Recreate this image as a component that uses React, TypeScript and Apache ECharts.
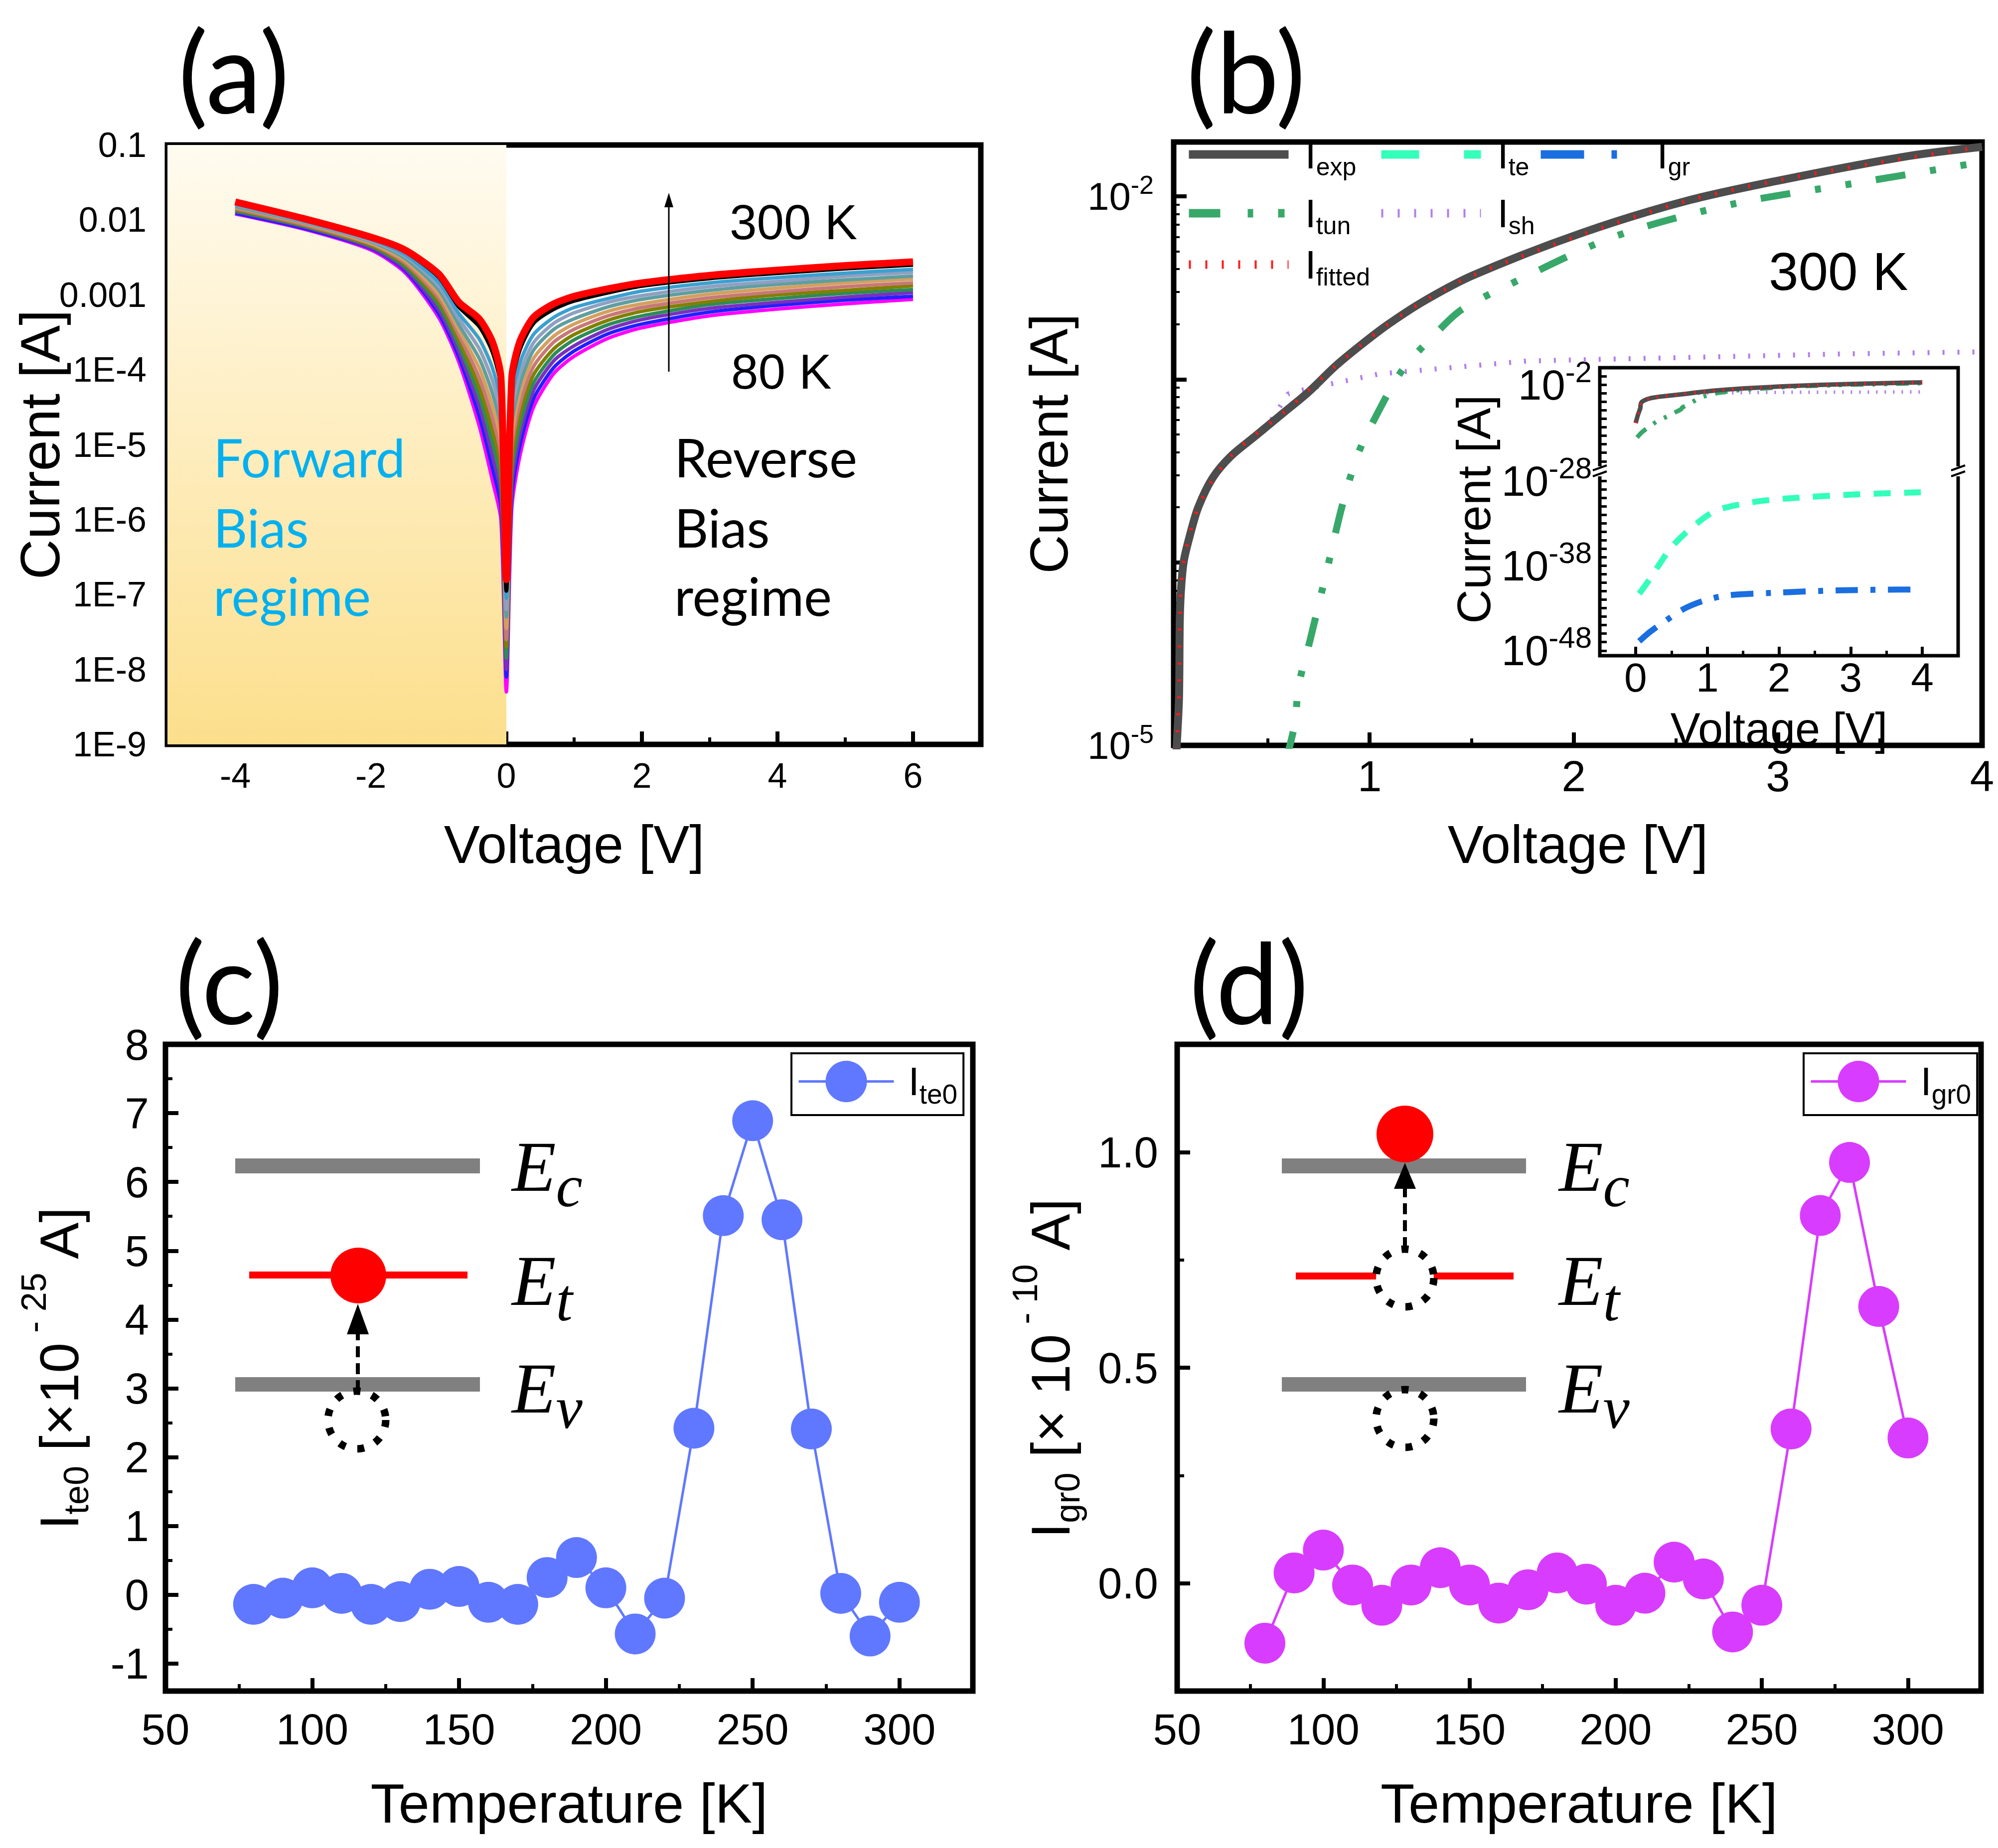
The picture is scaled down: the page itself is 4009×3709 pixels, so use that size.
import React, { useEffect, useRef } from 'react';
import * as echarts from 'echarts';

const W = 4009;
const H = 3709;
const SANS = "'Liberation Sans', Arial, Helvetica, sans-serif";
const CAL = "Lato, 'Open Sans', sans-serif";
const SERIF = "'Liberation Serif', 'DejaVu Serif', serif";

// ================= Panel (a): I-V curves 80 K ... 300 K (log10 of current in A) =================
const aVoltage = [-4, -3, -2, -1.5, -1, -0.7, -0.4, -0.2, -0.08, 0, 0.08, 0.2, 0.4, 0.7, 1, 1.5, 2, 3, 4, 5, 6];
const aTemps = [80, 100, 120, 140, 160, 180, 200, 220, 240, 260, 280, 300];
const aLogI80 = [-1.92, -2.12, -2.40, -2.70, -3.30, -3.90, -4.75, -5.50, -6.00, -8.30, -5.85, -5.15, -4.50, -4.05, -3.82, -3.58, -3.44, -3.28, -3.19, -3.12, -3.06];
const aLogI100 = [-1.91, -2.11, -2.38, -2.67, -3.25, -3.83, -4.62, -5.33, -5.83, -8.10, -5.69, -5.01, -4.39, -3.97, -3.75, -3.52, -3.39, -3.23, -3.14, -3.07, -3.02];
const aLogI120 = [-1.89, -2.09, -2.37, -2.65, -3.20, -3.76, -4.49, -5.17, -5.66, -8.00, -5.54, -4.87, -4.28, -3.88, -3.68, -3.46, -3.33, -3.18, -3.10, -3.03, -2.97];
const aLogI140 = [-1.88, -2.08, -2.35, -2.62, -3.14, -3.68, -4.36, -5.00, -5.49, -7.85, -5.38, -4.74, -4.18, -3.80, -3.60, -3.40, -3.28, -3.13, -3.05, -2.98, -2.93];
const aLogI160 = [-1.86, -2.07, -2.34, -2.59, -3.09, -3.61, -4.24, -4.83, -5.32, -7.70, -5.22, -4.60, -4.07, -3.72, -3.53, -3.34, -3.22, -3.09, -3.00, -2.94, -2.88];
const aLogI180 = [-1.85, -2.06, -2.32, -2.57, -3.04, -3.54, -4.11, -4.66, -5.15, -7.60, -5.06, -4.46, -3.96, -3.63, -3.46, -3.28, -3.17, -3.04, -2.96, -2.89, -2.84];
const aLogI200 = [-1.83, -2.04, -2.31, -2.54, -2.99, -3.47, -3.98, -4.50, -4.97, -7.45, -4.91, -4.32, -3.85, -3.55, -3.39, -3.22, -3.12, -2.99, -2.91, -2.84, -2.79];
const aLogI220 = [-1.82, -2.03, -2.29, -2.51, -2.93, -3.40, -3.85, -4.33, -4.80, -7.30, -4.75, -4.19, -3.74, -3.46, -3.32, -3.16, -3.06, -2.94, -2.86, -2.80, -2.75];
const aLogI240 = [-1.80, -2.02, -2.28, -2.48, -2.88, -3.32, -3.72, -4.16, -4.63, -7.20, -4.59, -4.05, -3.64, -3.38, -3.24, -3.10, -3.01, -2.89, -2.82, -2.75, -2.70];
const aLogI260 = [-1.79, -2.01, -2.26, -2.46, -2.83, -3.25, -3.59, -3.99, -4.46, -7.05, -4.43, -3.91, -3.53, -3.30, -3.17, -3.05, -2.95, -2.84, -2.77, -2.71, -2.66];
const aLogI280 = [-1.77, -1.99, -2.24, -2.42, -2.76, -3.16, -3.42, -3.77, -4.23, -6.95, -4.22, -3.73, -3.38, -3.19, -3.08, -2.97, -2.88, -2.78, -2.71, -2.65, -2.60];
const aLogI300 = [-1.76, -1.98, -2.23, -2.40, -2.72, -3.10, -3.32, -3.64, -4.10, -6.80, -4.10, -3.62, -3.30, -3.12, -3.02, -2.92, -2.84, -2.74, -2.67, -2.61, -2.56];
const aLogCurves = [aLogI80, aLogI100, aLogI120, aLogI140, aLogI160, aLogI180, aLogI200, aLogI220, aLogI240, aLogI260, aLogI280, aLogI300];
const aXTicks = [-4, -2, 0, 2, 4, 6];
const aYTickExp = [-9, -8, -7, -6, -5, -4, -3, -2, -1];
const aYTickText = ['1E-9', '1E-8', '1E-7', '1E-6', '1E-5', '1E-4', '0.001', '0.01', '0.1'];

// ================= Panel (b): 300 K components (log10 of current in A) =================
const bExpV = [0, 0.03, 0.055, 0.066, 0.07, 0.077, 0.09, 0.12, 0.16, 0.23, 0.32, 0.44, 0.57, 0.70, 0.83, 0.96, 1.09, 1.27, 1.51, 2.04, 2.57, 3.11, 3.64, 4.0];
const bExpLog = [-6.5, -5.6, -5.0, -4.74, -4.31, -4.13, -3.99, -3.85, -3.70, -3.54, -3.42, -3.31, -3.19, -3.07, -2.93, -2.81, -2.70, -2.57, -2.43, -2.20, -2.02, -1.89, -1.78, -1.73];
const bFitLog = [-6.5, -5.6, -5.0, -4.72, -4.32, -4.12, -3.99, -3.84, -3.70, -3.55, -3.42, -3.30, -3.19, -3.06, -2.93, -2.81, -2.70, -2.57, -2.43, -2.21, -2.02, -1.89, -1.79, -1.73];
const bTunV = [0.02, 0.1, 0.3, 0.45, 0.55, 0.63, 0.653, 0.707, 0.787, 0.868, 0.946, 1.027, 1.16, 1.35, 1.45, 1.67, 2.2, 2.79, 3.37, 3.96, 4.0];
const bTunLog = [-8.2, -7.5, -6.3, -5.7, -5.25, -4.90, -4.67, -4.43, -4.06, -3.68, -3.40, -3.21, -2.95, -2.72, -2.62, -2.49, -2.22, -2.04, -1.93, -1.82, -1.81];
const bShV = [0.52, 0.6, 0.7, 0.787, 1.05, 1.77, 2.57, 3.37, 4.0];
const bShLog = [-3.22, -3.08, -3.05, -3.03, -2.97, -2.90, -2.88, -2.86, -2.85];
const bTeV = [0.05, 0.17, 0.35, 0.49, 0.73, 1.10, 1.57, 2.08, 3.07, 3.98];
const bTeLog = [-41.3, -39.9, -37.6, -35.9, -33.9, -31.6, -30.6, -30.1, -29.6, -29.35];
const bGrV = [0.05, 0.2, 0.4, 0.67, 0.96, 1.28, 1.9, 2.86, 3.88];
const bGrLog = [-46.9, -45.8, -44.6, -43.1, -42.1, -41.5, -41.2, -40.9, -40.8];
const bXTicks = [1, 2, 3, 4];
const bYTickExp = [-5, -2];
const bInsetXTicks = [0, 1, 2, 3, 4];
const bInsetUpperTickExp = [-2];
const bInsetLowerTickExp = [-48, -38, -28];

// ================= Panels (c), (d) =================
const cdTemp = [80, 90, 100, 110, 120, 130, 140, 150, 160, 170, 180, 190, 200, 210, 220, 230, 240, 250, 260, 270, 280, 290, 300];
const cIte0 = [-0.14, -0.05, 0.10, 0.02, -0.14, -0.10, 0.08, 0.12, -0.11, -0.14, 0.25, 0.54, 0.10, -0.57, -0.05, 2.42, 5.51, 6.89, 5.45, 2.41, 0.02, -0.60, -0.11];
const dIgr0 = [-0.139, 0.024, 0.077, -0.004, -0.051, -0.004, 0.036, -0.004, -0.046, -0.015, 0.024, -0.002, -0.051, -0.023, 0.049, 0.010, -0.113, -0.051, 0.358, 0.853, 0.976, 0.642, 0.337];
const cdXTicks = [50, 100, 150, 200, 250, 300];
const cYTicks = [-1, 0, 1, 2, 3, 4, 5, 6, 7, 8];
const dYTicks = [0, 0.5, 1.0];
const dYTickText = ['0.0', '0.5', '1.0'];

// ================= styles =================
const aColors = ['#ff00ff', '#2020ff', '#7b2fbe', '#2e8b57', '#808000', '#c87878', '#d4a060', '#5f9ea0', '#8fa0c0', '#3ba0d0', '#000000', '#ff0000'];
const aWidths = [7, 7, 7, 7, 7, 7, 7, 7, 7, 7, 8, 14];

const pow10 = (l: number) => Math.pow(10, l);

function pick(v: number, ticks: number[], texts?: string[]) {
  const i = ticks.findIndex((t) => Math.abs(t - v) < 1e-6);
  if (i < 0) return '';
  return texts ? texts[i] : String(ticks[i]);
}
function pickLogExp(v: number, exps: number[]) {
  if (!(v > 0)) return null;
  const l = Math.log10(v);
  const e = Math.round(l);
  if (Math.abs(l - e) > 1e-6) return null;
  return exps.indexOf(e) >= 0 ? e : null;
}

const tickIn = (len: number, w: number) => ({ show: true, inside: true, length: len, lineStyle: { color: '#000', width: w } });
const minorIn = (split: number, len: number, w: number) => ({ show: true, splitNumber: split, length: len, lineStyle: { color: '#000', width: w } });
const lab = (size: number, margin: number, formatter: any, rich?: any) => ({
  color: '#000', fontFamily: SANS, fontSize: size, margin, formatter, rich, showMinLabel: true, showMaxLabel: true, hideOverlap: false,
});
const nameStyle = (size: number, rich?: any) => ({ fontSize: size, color: '#000', fontFamily: SANS, rich });
const baseAxis = { axisLine: { show: false, onZero: false }, splitLine: { show: false }, nameMoveOverlap: false };

function buildOption() {
  const gridBox = { show: true, borderColor: '#000', borderWidth: 11, backgroundColor: 'transparent', outerBoundsMode: 'none', containLabel: false };
  const grid = [
    { left: 336, top: 291, width: 1632, height: 1203, ...gridBox },
    { left: 2355, top: 285, width: 1622, height: 1211, ...gridBox },
    { left: 3210, top: 738, width: 719, height: 210, show: false, outerBoundsMode: 'none', containLabel: false },
    { left: 3210, top: 948, width: 719, height: 368, show: false, outerBoundsMode: 'none', containLabel: false },
    { left: 332, top: 2096, width: 1620, height: 1298, ...gridBox },
    { left: 2362, top: 2096, width: 1613, height: 1298, ...gridBox },
  ];

  const supRich = (b: number, s: number, pad: number) => ({
    b: { fontSize: b, color: '#000', fontFamily: SANS },
    s: { fontSize: s, color: '#000', fontFamily: SANS, padding: [0, 0, pad, 0] },
  });

  const xAxis: any[] = [
    {
      ...baseAxis, type: 'value', gridIndex: 0, min: -5, max: 7, splitNumber: 6,
      axisTick: tickIn(26, 8), minorTick: minorIn(2, 14, 6),
      axisLabel: lab(70, 28, (v: number) => pick(v, aXTicks)),
      name: 'Voltage [V]', nameLocation: 'middle', nameGap: 146, nameTextStyle: nameStyle(108),
    },
    {
      ...baseAxis, type: 'value', gridIndex: 1, min: 0.04, max: 4, splitNumber: 4,
      axisTick: tickIn(26, 8), minorTick: minorIn(2, 14, 6),
      axisLabel: lab(87, 18, (v: number) => pick(v, bXTicks)),
      name: 'Voltage [V]', nameLocation: 'middle', nameGap: 144, nameTextStyle: nameStyle(108),
    },
    { ...baseAxis, type: 'value', gridIndex: 2, min: -0.5, max: 4.5, splitNumber: 5, show: false },
    {
      ...baseAxis, type: 'value', gridIndex: 3, min: -0.5, max: 4.5, splitNumber: 5,
      axisTick: tickIn(18, 6), minorTick: minorIn(2, 10, 5),
      axisLabel: lab(82, 2, (v: number) => pick(v, bInsetXTicks)),
      name: 'Voltage [V]', nameLocation: 'middle', nameGap: 102, nameTextStyle: nameStyle(90),
    },
    {
      ...baseAxis, type: 'value', gridIndex: 4, min: 50, max: 325, interval: 50,
      axisTick: tickIn(26, 8), minorTick: minorIn(2, 14, 6),
      axisLabel: lab(87, 33, (v: number) => pick(v, cdXTicks)),
      name: 'Temperature [K]', nameLocation: 'middle', nameGap: 169, nameTextStyle: nameStyle(112),
    },
    {
      ...baseAxis, type: 'value', gridIndex: 5, min: 50, max: 325, interval: 50,
      axisTick: tickIn(26, 8), minorTick: minorIn(2, 14, 6),
      axisLabel: lab(87, 33, (v: number) => pick(v, cdXTicks)),
      name: 'Temperature [K]', nameLocation: 'middle', nameGap: 169, nameTextStyle: nameStyle(112),
    },
  ];

  const subTitleRich = {
    i: { fontSize: 110, color: '#000', fontFamily: SANS },
    s: { fontSize: 70, color: '#000', fontFamily: SANS, padding: [70, 0, 0, 0] },
    n: { fontSize: 110, color: '#000', fontFamily: SANS },
    p: { fontSize: 70, color: '#000', fontFamily: SANS, padding: [0, 0, 100, 0] },
  };

  const yAxis: any[] = [
    {
      ...baseAxis, type: 'log', logBase: 10, gridIndex: 0, min: 1e-9, max: 0.1, splitNumber: 8,
      axisTick: tickIn(26, 8), minorTick: minorIn(9, 12, 4),
      axisLabel: lab(70, 42, (v: number) => {
        const e = pickLogExp(v, aYTickExp);
        return e === null ? '' : aYTickText[aYTickExp.indexOf(e)];
      }),
      name: 'Current [A]', nameLocation: 'middle', nameGap: 200, nameTextStyle: nameStyle(112),
    },
    {
      ...baseAxis, type: 'log', logBase: 10, gridIndex: 1, min: 1e-5, max: 0.0198, splitNumber: 3,
      axisTick: tickIn(26, 8), minorTick: minorIn(9, 12, 4),
      axisLabel: lab(78, 40, (v: number) => {
        const e = pickLogExp(v, bYTickExp);
        return e === null ? '' : `{b|10}{s|${e}}`;
      }, supRich(78, 52, 46)),
      name: 'Current [A]', nameLocation: 'middle', nameGap: 197, nameTextStyle: nameStyle(108),
    },
    {
      ...baseAxis, type: 'value', gridIndex: 2, min: -12.3, max: 0, splitNumber: 12,
      axisTick: tickIn(14, 5),
      axisLabel: lab(85, 16, (v: number) => {
        const t = pick(v, bInsetUpperTickExp);
        return t === '' ? '' : `{b|10}{s|${t}}`;
      }, supRich(85, 60, 52)),
    },
    {
      ...baseAxis, type: 'value', gridIndex: 3, min: -48.6, max: -27, splitNumber: 22,
      axisTick: tickIn(14, 5),
      axisLabel: lab(85, 16, (v: number) => {
        const t = pick(v, bInsetLowerTickExp);
        return t === '' ? '' : `{b|10}{s|${t}}`;
      }, supRich(85, 60, 52)),
    },
    {
      ...baseAxis, type: 'value', gridIndex: 4, min: -1.4, max: 8, splitNumber: 9,
      axisTick: tickIn(26, 8), minorTick: minorIn(2, 14, 6),
      axisLabel: lab(87, 33, (v: number) => pick(v, cYTicks)),
      name: '{i|I}{s|te0}{n| [×10}{p| - 25}{n| A]}', nameLocation: 'middle', nameGap: 129,
      nameTextStyle: nameStyle(110, subTitleRich),
    },
    {
      ...baseAxis, type: 'value', gridIndex: 5, min: -0.25, max: 1.25, splitNumber: 3,
      axisTick: tickIn(26, 8), minorTick: minorIn(2, 14, 6),
      axisLabel: lab(87, 38, (v: number) => pick(v, dYTicks, dYTickText)),
      name: '{i|I}{s|gr0}{n| [× 10}{p| - 10}{n| A]}', nameLocation: 'middle', nameGap: 170,
      nameTextStyle: nameStyle(110, subTitleRich),
    },
  ];

  const series: any[] = [];

  // (a) forward-bias shading
  series.push({
    type: 'line', xAxisIndex: 0, yAxisIndex: 0, data: [], silent: true, symbol: 'none',
    markArea: {
      silent: true,
      itemStyle: {
        color: new echarts.graphic.LinearGradient(0, 0, 0, 1, [
          { offset: 0, color: '#fffbf0' },
          { offset: 1, color: '#fcdf8c' },
        ]),
      },
      data: [[{ coord: [-5, 0.1] }, { coord: [0, 1e-9] }]],
    },
  });
  aLogCurves.forEach((logs, k) => {
    series.push({
      name: `${aTemps[k]} K`, type: 'line', xAxisIndex: 0, yAxisIndex: 0, z: 3,
      data: aVoltage.map((v, i) => [v, pow10(logs[i])]),
      symbol: 'none', smooth: 0.25,
      lineStyle: { color: aColors[k], width: aWidths[k] },
    });
  });

  // (b) main
  const cTun = '#38a86a', cExp = '#4d4d4d', cSh = '#b27ee8', cFit = '#ff1a1a', cTe = '#33ffbb', cGr = '#1a6ee0';
  series.push({ name: 'sh', type: 'line', xAxisIndex: 1, yAxisIndex: 1, symbol: 'none', data: bShV.map((v, i) => [v, pow10(bShLog[i])]), lineStyle: { color: cSh, width: 10, type: [4, 26] } });
  series.push({ name: 'tun', type: 'line', xAxisIndex: 1, yAxisIndex: 1, symbol: 'none', smooth: 0.3, data: bTunV.map((v, i) => [v, pow10(bTunLog[i])]), lineStyle: { color: cTun, width: 14, type: [60, 50, 12, 50, 12, 50] } });
  series.push({ name: 'exp', type: 'line', xAxisIndex: 1, yAxisIndex: 1, symbol: 'none', smooth: 0.3, data: bExpV.map((v, i) => [v, pow10(bExpLog[i])]), lineStyle: { color: cExp, width: 16 } });
  series.push({ name: 'fitted', type: 'line', xAxisIndex: 1, yAxisIndex: 1, symbol: 'none', smooth: 0.3, data: bExpV.map((v, i) => [v, pow10(bFitLog[i])]), lineStyle: { color: cFit, width: 8, type: [4, 30] } });
  // (b) inset upper (exponent scale)
  series.push({ name: 'sh', type: 'line', xAxisIndex: 2, yAxisIndex: 2, symbol: 'none', data: bShV.map((v, i) => [v, bShLog[i]]), lineStyle: { color: cSh, width: 7, type: [3, 14] } });
  series.push({ name: 'tun', type: 'line', xAxisIndex: 2, yAxisIndex: 2, symbol: 'none', smooth: 0.3, data: bTunV.map((v, i) => [v, bTunLog[i]]), lineStyle: { color: cTun, width: 9, type: [25, 18, 6, 18, 6, 18] } });
  series.push({ name: 'exp', type: 'line', xAxisIndex: 2, yAxisIndex: 2, symbol: 'none', data: bExpV.map((v, i) => [v, bExpLog[i]]), lineStyle: { color: cExp, width: 9 } });
  series.push({ name: 'fitted', type: 'line', xAxisIndex: 2, yAxisIndex: 2, symbol: 'none', data: bExpV.map((v, i) => [v, bFitLog[i]]), lineStyle: { color: cFit, width: 6, type: [3, 16] } });
  // (b) inset lower
  series.push({ name: 'te', type: 'line', xAxisIndex: 3, yAxisIndex: 3, symbol: 'none', smooth: 0.3, data: bTeV.map((v, i) => [v, bTeLog[i]]), lineStyle: { color: cTe, width: 12, type: [34, 27] } });
  series.push({ name: 'gr', type: 'line', xAxisIndex: 3, yAxisIndex: 3, symbol: 'none', smooth: 0.3, data: bGrV.map((v, i) => [v, bGrLog[i]]), lineStyle: { color: cGr, width: 12, type: [45, 25, 10, 25] } });

  // (c), (d)
  series.push({
    name: 'te0', type: 'line', xAxisIndex: 4, yAxisIndex: 4, z: 3,
    data: cdTemp.map((t, i) => [t, cIte0[i]]), symbol: 'circle', symbolSize: 82,
    itemStyle: { color: '#6078ff' }, lineStyle: { color: '#6078ff', width: 5 },
  });
  series.push({
    name: 'gr0', type: 'line', xAxisIndex: 5, yAxisIndex: 5, z: 3,
    data: cdTemp.map((t, i) => [t, dIgr0[i]]), symbol: 'circle', symbolSize: 82,
    itemStyle: { color: '#d83cff' }, lineStyle: { color: '#d83cff', width: 5 },
  });

  const legendText = (padLeft: number, sub: number, subPad: number) => ({
    fontSize: 80, color: '#000', fontFamily: SANS,
    rich: {
      i: { fontSize: 80, color: '#000', fontFamily: SANS, padding: [0, 0, 0, padLeft] },
      s: { fontSize: sub, color: '#000', fontFamily: SANS, padding: [subPad, 0, 0, 0] },
    },
  });
  const bLeg = [
    { name: 'exp', left: 2377, cy: 322, type: 'solid' as any },
    { name: 'te', left: 2763, cy: 322, type: [76, 90] },
    { name: 'gr', left: 3083, cy: 322, type: [87, 55, 11, 60] },
    { name: 'tun', left: 2377, cy: 440, type: [63, 55, 11, 50, 13, 20] },
    { name: 'sh', left: 2763, cy: 440, type: [4, 29] },
    { name: 'fitted', left: 2377, cy: 543, type: [4, 29] },
  ];
  const legend: any[] = bLeg.map((l) => ({
    data: [l.name], left: l.left, top: l.cy - 52, orient: 'horizontal', padding: 0, itemGap: 0,
    itemWidth: 200, itemHeight: 20, selectedMode: false,
    itemStyle: { opacity: 0 }, lineStyle: { width: 17, type: l.type, cap: 'butt' },
    formatter: (n: string) => `{i|I}{s|${n}}`, textStyle: legendText(28, 50, 50),
  }));
  legend.push({
    data: ['te0'], left: 1588, top: 2114, padding: [15, 12, 15, 12], borderColor: '#000', borderWidth: 4,
    itemWidth: 191, itemHeight: 104, selectedMode: false, lineStyle: { width: 5 },
    formatter: () => '{i|I}{s|te0}', textStyle: legendText(24, 55, 50),
  });
  legend.push({
    data: ['gr0'], left: 3619, top: 2114, padding: [15, 12, 15, 12], borderColor: '#000', borderWidth: 4,
    itemWidth: 191, itemHeight: 104, selectedMode: false, lineStyle: { width: 5 },
    formatter: () => '{i|I}{s|gr0}', textStyle: legendText(24, 55, 50),
  });

  // ---------------- graphics ----------------
  const txt = (x: number, y: number, text: string, size: number, o: any = {}) => ({
    type: 'text', x, y, z: 100, silent: true, rotation: o.rotation || 0,
    style: {
      text, fontSize: size, fontFamily: o.family || SANS, fontStyle: o.fontStyle || 'normal',
      fill: o.fill || '#000', align: o.align || 'left', textAlign: o.align || 'left',
      verticalAlign: 'middle', textVerticalAlign: 'middle', rich: o.rich,
    },
  });
  const line = (x1: number, y1: number, x2: number, y2: number, w: number, color = '#000', dash?: number[]) => ({
    type: 'line', z: 100, silent: true, shape: { x1, y1, x2, y2 }, style: { stroke: color, lineWidth: w, lineDash: dash },
  });
  const poly = (pts: number[][], color = '#000') => ({ type: 'polygon', z: 100, silent: true, shape: { points: pts }, style: { fill: color } });
  const rect = (x: number, y: number, w: number, h: number, fill: string) => ({ type: 'rect', z: 100, silent: true, shape: { x, y, width: w, height: h }, style: { fill } });
  const circ = (cx: number, cy: number, r: number, style: any) => ({ type: 'circle', z: 101, silent: true, shape: { cx, cy, r }, style });
  const hole = (cx: number, cy: number, fill: string) => circ(cx, cy, 58, { fill, stroke: '#000', lineWidth: 15, lineDash: [14, 24] });
  const eRich = {
    e: { fontSize: 145, fontFamily: SERIF, fontStyle: 'italic', fill: '#000', color: '#000' },
    s: { fontSize: 120, fontFamily: SERIF, fontStyle: 'italic', fill: '#000', color: '#000', padding: [78, 0, 0, 0] },
  };
  const eText = (x: number, y: number, sub: string) => txt(x, y, `{e|E}{s|${sub}}`, 145, { family: SERIF, fontStyle: 'italic', rich: eRich });

  const graphic: any[] = [
    // panel labels
    txt(469, 140, '(a)', 225, { family: CAL, align: 'center' }),
    txt(2500, 140, '(b)', 225, { family: CAL, align: 'center' }),
    txt(460, 1968, '(c)', 225, { family: CAL, align: 'center' }),
    txt(2506, 1968, '(d)', 225, { family: CAL, align: 'center' }),
    // (a) annotations
    txt(1464, 446, '300 K', 98),
    txt(1467, 746, '80 K', 98),
    line(1342, 746, 1342, 410, 3),
    poly([[1342, 387], [1333, 416], [1351, 416]]),
    txt(428, 917, 'Forward', 106, { family: CAL, fill: '#00b0f0' }),
    txt(428, 1058, 'Bias', 106, { family: CAL, fill: '#00b0f0' }),
    txt(428, 1195, 'regime', 106, { family: CAL, fill: '#00b0f0' }),
    txt(1353, 917, 'Reverse', 106, { family: CAL }),
    txt(1353, 1058, 'Bias', 106, { family: CAL }),
    txt(1353, 1195, 'regime', 106, { family: CAL }),
    // (b) annotations
    txt(3549, 545, '300 K', 107),
    { type: 'rect', z: 100, silent: true, shape: { x: 3210, y: 738, width: 719, height: 578 }, style: { fill: 'none', stroke: '#000', lineWidth: 7 } },
    rect(3196, 936, 28, 20, '#fff'),
    line(3196, 944, 3224, 934, 4),
    line(3196, 956, 3224, 946, 4),
    rect(3915, 936, 28, 20, '#fff'),
    line(3915, 944, 3943, 934, 4),
    line(3915, 956, 3943, 946, 4),
    txt(2957, 1022, 'Current [A]', 95, { align: 'center', rotation: Math.PI / 2 }),
    // (c) energy diagram
    rect(472, 2325, 491, 30, '#808080'),
    rect(472, 2764, 491, 29, '#808080'),
    line(500, 2559, 938, 2559, 14, '#ff0000'),
    circ(719, 2560, 56, { fill: '#ff0000' }),
    line(718, 2792, 718, 2676, 8, '#000', [22, 12]),
    poly([[718, 2617], [696, 2678], [740, 2678]]),
    hole(716, 2850, 'none'),
    eText(1027, 2341, 'c'),
    eText(1027, 2570, 't'),
    eText(1027, 2786, 'v'),
    // (d) energy diagram
    rect(2572, 2325, 490, 30, '#808080'),
    rect(2572, 2764, 490, 29, '#808080'),
    line(2600, 2561, 3037, 2561, 14, '#ff0000'),
    circ(2819, 2276, 57, { fill: '#ff0000' }),
    hole(2819, 2565, '#fff'),
    line(2819, 2505, 2819, 2384, 8, '#000', [22, 12]),
    poly([[2819, 2334], [2797, 2386], [2841, 2386]]),
    hole(2819, 2847, 'none'),
    eText(3128, 2341, 'c'),
    eText(3128, 2570, 't'),
    eText(3128, 2786, 'v'),
  ];

  return {
    animation: false,
    backgroundColor: '#ffffff',
    grid, xAxis, yAxis, series, legend, graphic,
  };
}

export default function App() {
  const ref = useRef<HTMLDivElement>(null);
  useEffect(() => {
    document.body.style.margin = '0';
    const el = ref.current;
    if (!el) return;
    const chart = echarts.init(el, null, { renderer: 'svg', width: W, height: H });
    chart.setOption(buildOption() as any);
    return () => chart.dispose();
  }, []);
  return <div ref={ref} style={{ width: W + 'px', height: H + 'px' }} />;
}
